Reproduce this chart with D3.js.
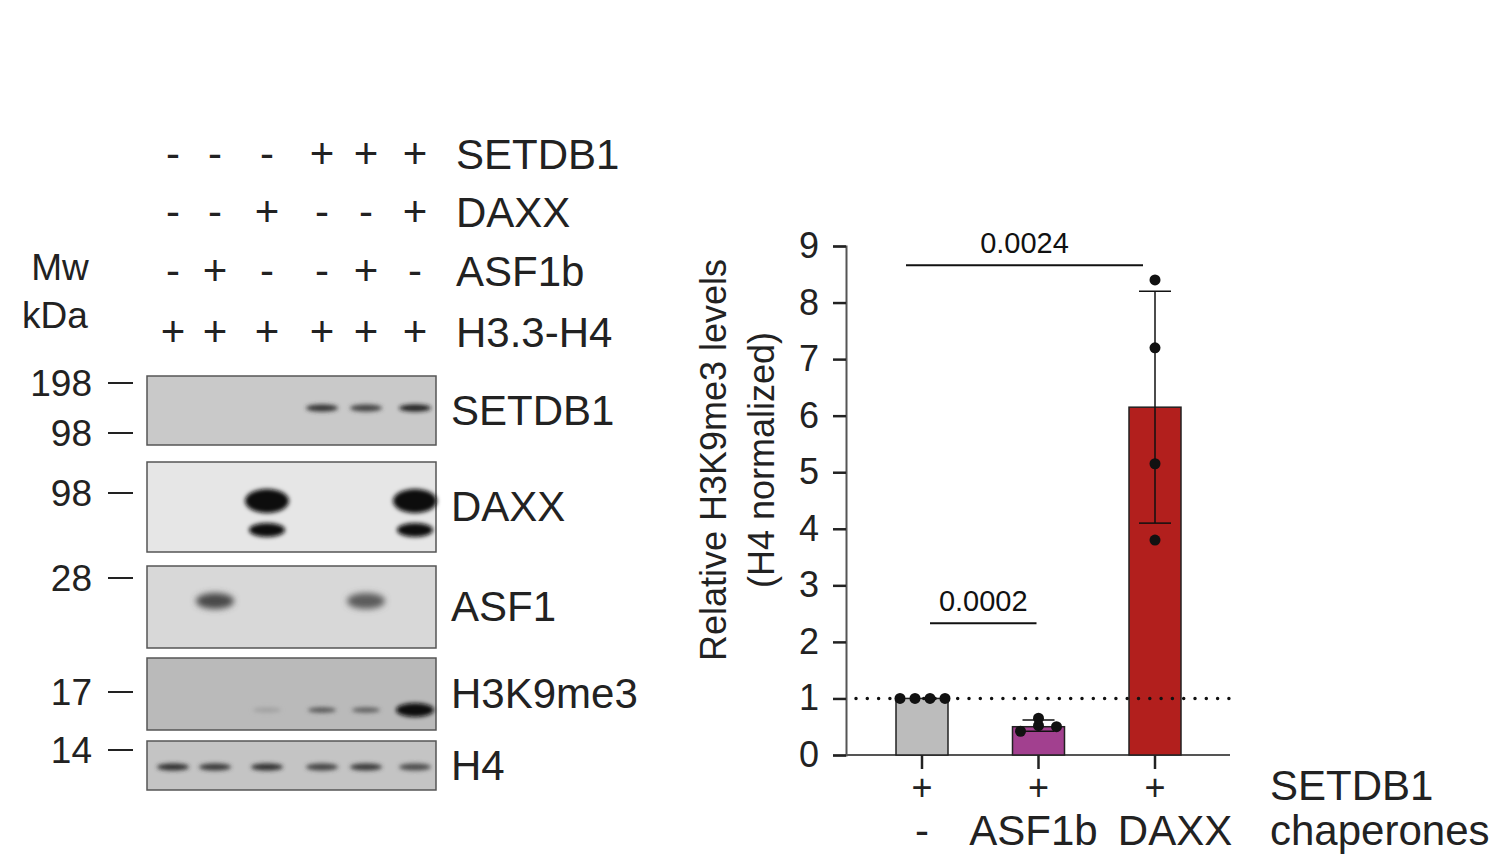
<!DOCTYPE html>
<html><head><meta charset="utf-8">
<script src="https://cdn.jsdelivr.net/npm/d3@7"></script>
<style>body{margin:0;background:#fff}text{font-family:"Liberation Sans",Arial,sans-serif}</style>
</head><body><svg id="c" width="1498" height="863"></svg>
<script>
// ---- data ----
const lanes = [1,2,3,4,5,6];
const condRows = ["SETDB1","DAXX","ASF1b","H3.3-H4"];
const condSETDB1 = ["-","-","-","+","+","+"];
const condDAXX   = ["-","-","+","-","-","+"];
const condASF1b  = ["-","+","-","-","+","-"];
const condH33H4  = ["+","+","+","+","+","+"];
const blotNames = ["SETDB1","DAXX","ASF1","H3K9me3","H4"];
const bandSETDB1 = [0,0,0,0.8,0.7,0.9];
const bandDAXX   = [0,0,1,0,0,1];
const bandASF1   = [0,0.7,0,0,0.6,0];
const bandH3K9   = [0,0,0.15,0.6,0.55,1];
const bandH4     = [0.8,0.75,0.8,0.7,0.75,0.65];
const mwLabels = ["198","98","98","28","17","14"];
const groups = ["-","ASF1b","DAXX"];
const means = [1.0,0.5,6.15];
const errLo = [1.0,0.42,4.1];
const errHi = [1.0,0.62,8.2];
const dots = [[1,1,1,1],[0.42,0.52,0.5,0.65],[8.4,7.2,5.15,3.8]];
const barColors = ["#bcbcbc","#a2408f","#b21f1d"];
const yTicks = [0,1,2,3,4,5,6,7,8,9];
const sig = [{a:0,b:2,y:8.66,label:"0.0024"},{a:0,b:1,y:2.33,label:"0.0002"}];

const svg = d3.select("#c");
const defs = svg.append("defs");
[2,3,4].forEach(s=>defs.append("filter").attr("id","b"+s).attr("x","-50%").attr("y","-100%").attr("width","200%").attr("height","300%")
  .append("feGaussianBlur").attr("stdDeviation",s));

// ---- blot ----
const laneX = [173,215,267,322,366,415];
const xl = d3.scaleOrdinal().domain(lanes).range(laneX);
const condData = [condSETDB1,condDAXX,condASF1b,condH33H4];
const condY = [155,213,272,333];
condData.forEach((row,i)=>{
  row.forEach((v,j)=>svg.append("text").attr("x",xl(lanes[j])).attr("y",condY[i]+13)
    .attr("text-anchor","middle").attr("font-size",42).attr("fill","#222").text(v));
  svg.append("text").attr("x",456).attr("y",condY[i]+14).attr("font-size",42).attr("fill","#222").text(condRows[i]);
});
svg.append("text").attr("x",60).attr("y",280).attr("text-anchor","middle").attr("font-size",37).attr("fill","#222").text("Mw");
svg.append("text").attr("x",55).attr("y",328).attr("text-anchor","middle").attr("font-size",37).attr("fill","#222").text("kDa");

const panels = [
 {name:"SETDB1",y0:376,y1:445,bg:"#c9c9c9",data:bandSETDB1,bands:[{dy:32,w:32,h:7,blur:2}]},
 {name:"DAXX",y0:462,y1:552,bg:"#e6e6e6",data:bandDAXX,bands:[{dy:39,w:44,h:24,blur:2},{dy:68,w:36,h:14,blur:2}]},
 {name:"ASF1",y0:566,y1:648,bg:"#d8d8d8",data:bandASF1,bands:[{dy:35,w:38,h:16,blur:3}]},
 {name:"H3K9me3",y0:658,y1:730,bg:"#bababa",data:bandH3K9,bands:[{dy:52,w:28,h:5,blur:2}]},
 {name:"H4",y0:741,y1:790,bg:"#c4c4c4",data:bandH4,bands:[{dy:26,w:32,h:7,blur:2}]}
];
panels.forEach(p=>{
  const g = svg.append("g");
  g.append("rect").attr("x",147).attr("y",p.y0).attr("width",289).attr("height",p.y1-p.y0).attr("fill",p.bg).attr("stroke","#555").attr("stroke-width",1.5);
  p.data.forEach((v,j)=>{
    if(!v) return;
    p.bands.forEach(b=>{
      let w=b.w,h=b.h;
      if(p.name==="H3K9me3"&&v>0.9){w=38;h=14;}
      g.append("ellipse").attr("cx",xl(lanes[j])).attr("cy",p.y0+b.dy).attr("rx",w/2).attr("ry",h/2)
        .attr("fill",d3.interpolateRgb(p.bg,"#0a0a0a")(v)).attr("filter","url(#b"+b.blur+")");
    });
  });
  svg.append("text").attr("x",451).attr("y",(p.y0+p.y1)/2+14).attr("font-size",42).attr("fill","#222").text(p.name);
});
const mwY = [383,433,493,578,692,750];
mwY.forEach((y,i)=>{
  svg.append("line").attr("x1",108).attr("x2",133).attr("y1",y).attr("y2",y).attr("stroke","#222").attr("stroke-width",2);
  svg.append("text").attr("x",92).attr("y",y+13).attr("text-anchor","end").attr("font-size",37).attr("fill","#222").text(mwLabels[i]);
});

// ---- bar chart ----
const y = d3.scaleLinear().domain([0,9]).range([755,246]);
const x = d3.scalePoint().domain(groups).range([922,1155]);
const bw = 52;
const yAx = svg.append("g").attr("transform","translate(846,0)").call(d3.axisLeft(y).tickValues(yTicks).tickSize(13).tickPadding(14));
yAx.select(".domain").attr("stroke","#555").attr("stroke-width",2);
yAx.selectAll(".tick line").attr("stroke","#222").attr("stroke-width",2.5);
yAx.selectAll(".tick text").attr("font-size",36).attr("fill","#222").attr("font-family","Liberation Sans, Arial");
svg.append("line").attr("x1",846).attr("x2",1230).attr("y1",y(0)).attr("y2",y(0)).attr("stroke","#555").attr("stroke-width",2);
svg.append("text").attr("transform","translate(726,460) rotate(-90)").attr("text-anchor","middle").attr("font-size",36).attr("fill","#222").text("Relative H3K9me3 levels");
svg.append("text").attr("transform","translate(774,460) rotate(-90)").attr("text-anchor","middle").attr("font-size",36).attr("fill","#222").text("(H4 normalized)");

groups.forEach((gname,i)=>{
  const cx = x(gname);
  svg.append("rect").attr("x",cx-bw/2).attr("y",y(means[i])).attr("width",bw).attr("height",y(0)-y(means[i]))
    .attr("fill",barColors[i]).attr("stroke","#222").attr("stroke-width",1.5);
  svg.append("line").attr("x1",cx).attr("x2",cx).attr("y1",y(0)).attr("y2",y(0)+14).attr("stroke","#222").attr("stroke-width",2.5);
});
svg.append("line").attr("x1",856).attr("x2",1230).attr("y1",y(1)).attr("y2",y(1)).attr("stroke","#111").attr("stroke-width",3.5).attr("stroke-dasharray","0 11.3").attr("stroke-linecap","round");
const offsets = [[-22,-7,8,23],[-18,0,18,0],[0,0,0,0]];
groups.forEach((gname,i)=>{
  const cx = x(gname);
  if(errHi[i]!==errLo[i]){
    svg.append("line").attr("x1",cx).attr("x2",cx).attr("y1",y(errLo[i])).attr("y2",y(errHi[i])).attr("stroke","#111").attr("stroke-width",1.5);
    [errLo[i],errHi[i]].forEach(v=>svg.append("line").attr("x1",cx-16).attr("x2",cx+16).attr("y1",y(v)).attr("y2",y(v)).attr("stroke","#111").attr("stroke-width",1.5));
  }
  dots[i].forEach((v,k)=>svg.append("circle").attr("cx",cx+offsets[i][k]).attr("cy",y(v)).attr("r",5.5).attr("fill","#111"));
  svg.append("text").attr("x",cx).attr("y",800).attr("text-anchor","middle").attr("font-size",36).attr("fill","#222").text("+");
  svg.append("text").attr("x",i===0?cx:(i===2?cx+20:cx-5)).attr("y",845).attr("text-anchor","middle").attr("font-size",42).attr("fill","#222").text(gname);
});
svg.append("text").attr("x",1270).attr("y",800).attr("font-size",42).attr("fill","#222").text("SETDB1");
svg.append("text").attr("x",1270).attr("y",845).attr("font-size",42).attr("fill","#222").text("chaperones");
sig.forEach(s=>{
  const xa = s.b===2 ? x(groups[0])-16 : x(groups[0])+8;
  const xb = s.b===2 ? x(groups[2])-12 : x(groups[1])-2;
  svg.append("line").attr("x1",xa).attr("x2",xb).attr("y1",y(s.y)).attr("y2",y(s.y)).attr("stroke","#111").attr("stroke-width",2);
  svg.append("text").attr("x",(xa+xb)/2).attr("y",y(s.y)-12).attr("text-anchor","middle").attr("font-size",29).attr("fill","#111").text(s.label);
});
</script></body></html>
